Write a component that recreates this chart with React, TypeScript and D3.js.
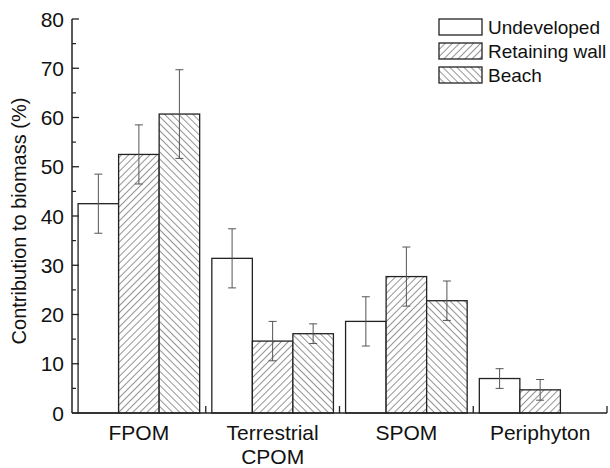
import React from "react";
import * as d3 from "d3";

const categories = ["FPOM", "Terrestrial\nCPOM", "SPOM", "Periphyton"];
const seriesNames = ["Undeveloped", "Retaining wall", "Beach"];
const undeveloped = [42.5, 31.4, 18.6, 7.0];
const undevelopedErr = [6.0, 6.0, 5.0, 2.0];
const retainingWall = [52.5, 14.6, 27.7, 4.7];
const retainingWallErr = [6.0, 4.0, 6.0, 2.1];
const beach: (number | null)[] = [60.7, 16.1, 22.8, null];
const beachErr = [9.0, 2.0, 4.0, 0];
const yTicks = [0, 10, 20, 30, 40, 50, 60, 70, 80];

const W = 610;
const H = 468;
const left = 72;
const right = 607;
const top = 19;
const bottom = 413;
const fontFamily = "Liberation Sans, Arial, sans-serif";

export default function App() {
  const x = d3.scaleBand<string>().domain(categories).range([left, right]).paddingInner(0).paddingOuter(0);
  const inner = d3
    .scaleBand<number>()
    .domain([0, 1, 2])
    .range([0, x.bandwidth()])
    .paddingOuter(0.15)
    .paddingInner(0);
  const y = d3.scaleLinear().domain([0, 80]).range([bottom, top]);

  const series = [
    { values: undeveloped, errs: undevelopedErr, fill: "#fff" },
    { values: retainingWall, errs: retainingWallErr, fill: "url(#hatchFwd)" },
    { values: beach, errs: beachErr, fill: "url(#hatchBack)" },
  ];
  const minorTicks = d3.range(5, 80, 10);
  const stroke = "#222";

  return (
    <svg width={W} height={H} style={{ position: "absolute", left: 0, top: 0, background: "#fff" }}>
      <defs>
        <pattern id="hatchFwd" patternUnits="userSpaceOnUse" width="5" height="5" patternTransform="rotate(45)">
          <rect width="5" height="5" fill="#fff" />
          <line x1="0" y1="0" x2="0" y2="5" stroke="#2a2a2a" strokeWidth="1" />
        </pattern>
        <pattern id="hatchBack" patternUnits="userSpaceOnUse" width="5" height="5" patternTransform="rotate(-45)">
          <rect width="5" height="5" fill="#fff" />
          <line x1="0" y1="0" x2="0" y2="5" stroke="#2a2a2a" strokeWidth="1" />
        </pattern>
      </defs>

      {/* bars */}
      {categories.map((c, ci) =>
        series.map((s, si) => {
          const v = s.values[ci];
          if (v == null) return null;
          const bx = (x(c) as number) + (inner(si) as number);
          const bw = inner.bandwidth();
          const cx = bx + bw / 2;
          const e = s.errs[ci];
          return (
            <g key={`${ci}-${si}`}>
              <rect x={bx} y={y(v)} width={bw} height={y(0) - y(v)} fill={s.fill} stroke={stroke} strokeWidth={1.3} />
              {e > 0 && (
                <g stroke="#555" strokeWidth={1}>
                  <line x1={cx} x2={cx} y1={y(v + e)} y2={y(v - e)} />
                  <line x1={cx - 4} x2={cx + 4} y1={y(v + e)} y2={y(v + e)} />
                  <line x1={cx - 4} x2={cx + 4} y1={y(v - e)} y2={y(v - e)} />
                </g>
              )}
            </g>
          );
        })
      )}

      {/* y axis */}
      <line x1={left} x2={left} y1={top} y2={bottom} stroke={stroke} strokeWidth={1.5} />
      {yTicks.map((t) => (
        <g key={t}>
          <line x1={left} x2={left + 7} y1={y(t)} y2={y(t)} stroke={stroke} strokeWidth={1.3} />
          <text x={left - 8} y={y(t)} dy="0.36em" textAnchor="end" fontSize={21} fontFamily={fontFamily} fill="#111">
            {t}
          </text>
        </g>
      ))}
      {minorTicks.map((t) => (
        <line key={t} x1={left} x2={left + 4} y1={y(t)} y2={y(t)} stroke={stroke} strokeWidth={1.2} />
      ))}
      <text
        transform="translate(18.5, 221) rotate(-90)"
        textAnchor="middle"
        dy="0.35em"
        fontSize={20}
        fontFamily={fontFamily}
        fill="#111"
      >
        Contribution to biomass (%)
      </text>

      {/* x axis */}
      <line x1={left} x2={right} y1={bottom} y2={bottom} stroke={stroke} strokeWidth={1.5} />
      {categories.map((c) => (
        <line key={c} x1={(x(c) as number) + x.bandwidth()} x2={(x(c) as number) + x.bandwidth()} y1={bottom} y2={bottom - 7} stroke={stroke} strokeWidth={1.3} />
      ))}
      {categories.map((c) => {
        const lines = c.split("\n");
        const cx = (x(c) as number) + x.bandwidth() / 2;
        return (
          <text key={c} x={cx} y={440} textAnchor="middle" fontSize={21} fontFamily={fontFamily} fill="#111">
            {lines.map((l, i) => (
              <tspan key={i} x={cx} dy={i === 0 ? 0 : 23.5}>
                {l}
              </tspan>
            ))}
          </text>
        );
      })}

      {/* legend */}
      {seriesNames.map((n, i) => {
        const ly = 19 + i * 24;
        return (
          <g key={n}>
            <rect x={439} y={ly} width={43} height={16} fill={series[i].fill} stroke={stroke} strokeWidth={1.3} />
            <text x={488} y={ly + 8} dy="0.36em" fontSize={19} fontFamily={fontFamily} fill="#111">
              {n}
            </text>
          </g>
        );
      })}
    </svg>
  );
}
